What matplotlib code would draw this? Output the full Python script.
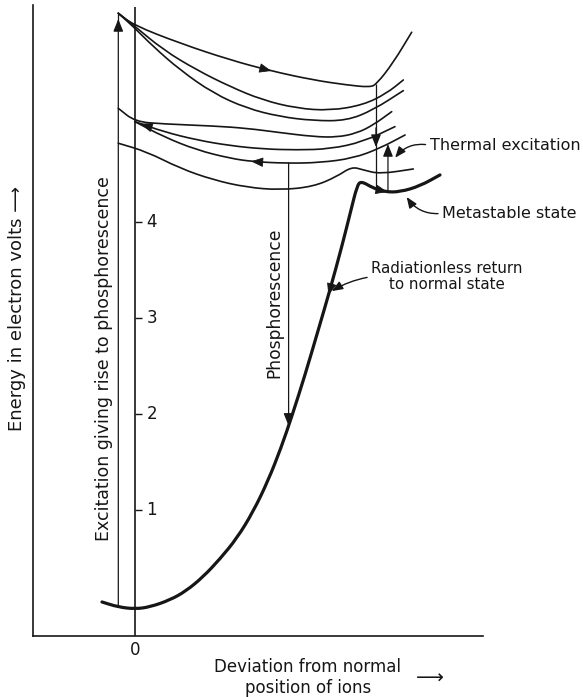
import numpy as np
import matplotlib
matplotlib.use("Agg")
import matplotlib.pyplot as plt
from matplotlib.path import Path
from matplotlib.patches import PathPatch

plt.rcParams["font.family"] = ["DejaVu Sans"]

INK = "#161616"

# energy ticks on the inner axis (eV)
energy_ticks = [1, 2, 3, 4]
axis_top = 6.24

# ground state + radiationless return (thick curve)
ground_x = [-0.344, -0.177, 0.000, 0.156, 0.365, 0.531, 0.708, 0.885, 1.063,
            1.229, 1.385, 1.521, 1.635, 1.771, 1.906, 2.031, 2.156, 2.250,
            2.313, 2.354, 2.479, 2.604, 2.760, 2.969, 3.177]
ground_e = [0.042, -0.010, -0.031, -0.010, 0.063, 0.156, 0.302, 0.490, 0.708,
            0.979, 1.302, 1.646, 1.979, 2.406, 2.865, 3.292, 3.750, 4.125,
            4.375, 4.427, 4.354, 4.313, 4.313, 4.375, 4.490]

# excited-state curves leaving the apex
top_x = [-0.174, -0.018, 0.469, 0.990, 1.406, 1.854, 2.208, 2.448, 2.518, 2.688, 2.882]
top_e = [6.174, 6.052, 5.861, 5.688, 5.576, 5.479, 5.427, 5.403, 5.438, 5.656, 5.976]

c2_x = [-0.174, -0.018, 0.295, 0.643, 0.990, 1.326, 1.684, 2.031, 2.378, 2.622, 2.795]
c2_e = [6.174, 6.052, 5.792, 5.583, 5.410, 5.271, 5.184, 5.160, 5.219, 5.340, 5.479]

c3_x = [-0.174, -0.018, 0.191, 0.469, 0.816, 1.163, 1.510, 1.857, 2.205, 2.482, 2.795]
c3_e = [6.174, 6.035, 5.826, 5.583, 5.340, 5.184, 5.097, 5.055, 5.055, 5.167, 5.368]

# lower bunch of curves
ca_x = [-0.174, 0.000, 0.295, 0.816, 1.163, 1.510, 1.857, 2.101, 2.309, 2.482, 2.674]
ca_e = [5.184, 5.045, 5.021, 5.000, 4.976, 4.931, 4.889, 4.882, 4.924, 5.010, 5.149]

cb_x = [0.000, 0.295, 0.643, 0.990, 1.336, 1.684, 2.031, 2.378, 2.708]
cb_e = [5.045, 4.941, 4.854, 4.795, 4.760, 4.750, 4.760, 4.836, 4.993]

cc_x = [0.000, 0.295, 0.643, 0.990, 1.232, 1.580, 1.927, 2.274, 2.552, 2.813]
cc_e = [5.045, 4.889, 4.750, 4.663, 4.628, 4.611, 4.618, 4.664, 4.768, 4.906]

bump_x = [-0.174, 0.122, 0.469, 0.816, 1.163, 1.510, 1.857, 2.101, 2.257, 2.378, 2.552, 2.899]
bump_e = [4.820, 4.732, 4.559, 4.438, 4.361, 4.333, 4.368, 4.472, 4.576, 4.542, 4.500, 4.552]

# x positions of the vertical transitions
x_excite = -0.174
x_phos = 1.60
x_therm_down = 2.51
x_therm_up = 2.635


def smooth_curve(ax, xs, ys, lw):
    """quadratic-bezier path through the segment midpoints (read points = control points)"""
    pts = np.column_stack([xs, ys])
    mids = (pts[:-1] + pts[1:]) / 2
    verts = [pts[0], mids[0]]
    codes = [Path.MOVETO, Path.LINETO]
    for i in range(1, len(pts) - 1):
        verts += [pts[i], mids[i]]
        codes += [Path.CURVE3, Path.CURVE3]
    verts.append(pts[-1])
    codes.append(Path.LINETO)
    patch = PathPatch(Path(verts, codes), fill=False, edgecolor=INK, lw=lw,
                      capstyle="round", joinstyle="round")
    ax.add_patch(patch)


def arrow_on(ax, xs, ys, x0, step, size=15):
    """small filled arrowhead sitting on a curve, pointing along it"""
    y0 = np.interp(x0, xs, ys)
    y1 = np.interp(x0 + step, xs, ys)
    ax.annotate("", xy=(x0 + step, y1), xytext=(x0, y0),
                arrowprops=dict(arrowstyle="-|>,head_length=0.5,head_width=0.2",
                                color=INK, lw=0.6,
                                mutation_scale=size, shrinkA=0, shrinkB=0))


fig = plt.figure(figsize=(5.83, 6.97), dpi=100)
ax = fig.add_axes([33 / 583, 61 / 697, 450 / 583, 631 / 697])
ax.set_xlim(-1.0625, 3.625)
ax.set_ylim(-0.3125, 6.26)
for s in ("top", "right"):
    ax.spines[s].set_visible(False)
for s in ("left", "bottom"):
    ax.spines[s].set_linewidth(1.2)
    ax.spines[s].set_color(INK)
ax.set_xticks([])
ax.set_yticks([])

# inner energy axis at zero deviation
ax.vlines(0, -0.3125, axis_top, color=INK, lw=1.2)
ax.hlines(energy_ticks, 0, 0.07, color=INK, lw=1.0)
for t in energy_ticks:
    ax.text(0.12, t, str(t), ha="left", va="center", fontsize=12, color=INK)
ax.text(0, -0.36, "0", ha="center", va="top", fontsize=12, color=INK)

# curves
smooth_curve(ax, ground_x, ground_e, 2.3)
for xs, ys in ((top_x, top_e), (c2_x, c2_e), (c3_x, c3_e),
               (ca_x, ca_e), (cb_x, cb_e), (cc_x, cc_e), (bump_x, bump_e)):
    smooth_curve(ax, xs, ys, 1.2)

# arrowheads along curves
arrow_on(ax, top_x, top_e, 1.34, 0.08)
arrow_on(ax, cb_x, cb_e, 0.14, -0.08)
arrow_on(ax, cc_x, cc_e, 1.29, -0.08)
arrow_on(ax, ground_x, ground_e, 2.04, -0.025)
arrow_on(ax, ground_x, ground_e, 2.55, 0.08)

vkw = dict(arrowstyle="-|>,head_length=0.5,head_width=0.2", color=INK, lw=0.9,
           mutation_scale=15, shrinkA=0, shrinkB=0)

# excitation (vertical, upward)
e_lo = np.interp(x_excite, ground_x, ground_e)
e_hi = np.interp(x_excite, top_x, top_e)
ax.annotate("", xy=(x_excite, e_hi - 0.06), xytext=(x_excite, e_lo), arrowprops=vkw)
ax.vlines(x_excite, e_hi - 0.1, e_hi, color=INK, lw=0.9)

# phosphorescence (vertical, downward)
p_hi = np.interp(x_phos, cc_x, cc_e)
p_lo = np.interp(x_phos, ground_x, ground_e)
ax.annotate("", xy=(x_phos, p_lo), xytext=(x_phos, p_hi), arrowprops=vkw)

# thermal: drop from top curve to metastable state
d_hi = np.interp(x_therm_down, top_x, top_e)
d_lo = np.interp(x_therm_down, ground_x, ground_e)
ax.vlines(x_therm_down, d_lo, d_hi, color=INK, lw=0.9)
d_mid = np.interp(x_therm_down, ca_x, ca_e)
ax.annotate("", xy=(x_therm_down, d_mid - 0.25), xytext=(x_therm_down, d_mid - 0.05),
            arrowprops=vkw)

# thermal excitation back up
u_lo = np.interp(x_therm_up, ground_x, ground_e)
u_hi = np.interp(x_therm_up, cc_x, cc_e)
ax.annotate("", xy=(x_therm_up, u_hi), xytext=(x_therm_up, u_lo), arrowprops=vkw)

# labels with leaders
lkw = dict(arrowstyle="-|>,head_length=0.5,head_width=0.2", color=INK, lw=1.0,
           mutation_scale=13, shrinkA=1, shrinkB=0, relpos=(0, 0.5))
ax.annotate("Thermal excitation", xy=(2.71, 4.67), xytext=(3.07, 4.80),
            ha="left", va="center", fontsize=11.5, color=INK,
            arrowprops=dict(lkw, connectionstyle="arc3,rad=0.3"),
            annotation_clip=False)
ax.annotate("Metastable state", xy=(2.83, 4.26), xytext=(3.20, 4.09),
            ha="left", va="center", fontsize=11.5, color=INK,
            arrowprops=dict(lkw, connectionstyle="arc3,rad=-0.3"),
            annotation_clip=False)
ax.annotate("Radiationless return\nto normal state", xy=(2.05, 3.28),
            xytext=(3.25, 3.43), ha="center", va="center", fontsize=10.8,
            color=INK, linespacing=1.1,
            arrowprops=dict(lkw, connectionstyle="arc3,rad=0.1"),
            annotation_clip=False)

ax.text(1.45, 3.16, "Phosphorescence", rotation=90, ha="center", va="center",
        fontsize=12.3, color=INK)
ax.text(-0.32, 2.58, "Excitation giving rise to phosphorescence", rotation=90,
        ha="center", va="center", fontsize=12.5, color=INK)
ax.text(-1.23, 3.10, "Energy in electron volts \u27f6", rotation=90,
        ha="center", va="center", fontsize=13, color=INK, clip_on=False)

ax.text(1.80, -0.635, "Deviation from normal", ha="center", va="center",
        fontsize=12, color=INK, clip_on=False)
ax.text(1.80, -0.855, "position of ions", ha="center", va="center",
        fontsize=12, color=INK, clip_on=False)
ax.text(3.07, -0.75, "\u27f6", ha="center", va="center", fontsize=14,
        color=INK, clip_on=False)

fig.savefig("out.png", dpi=100)
